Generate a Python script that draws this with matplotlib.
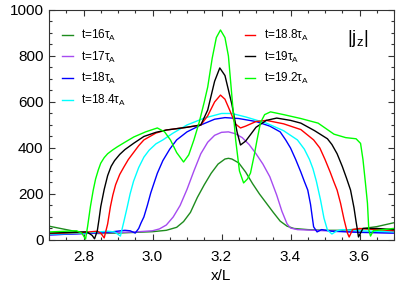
import matplotlib

matplotlib.use("Agg")
from matplotlib import pyplot as plt
from matplotlib.ticker import MultipleLocator

plt.rcParams["font.family"] = ["Liberation Sans", "DejaVu Sans"]
plt.rcParams["mathtext.fontset"] = "custom"
plt.rcParams["mathtext.rm"] = "Liberation Sans"

# |j_z| profiles, one pair of lists per time
x_t16 = [2.70, 2.75, 2.80, 2.85, 2.90, 2.95, 3.00, 3.04, 3.07, 3.09, 3.11, 3.13, 3.15, 3.17,
         3.19, 3.21, 3.22, 3.23, 3.25, 3.27, 3.29, 3.31, 3.33, 3.35, 3.37, 3.39, 3.41, 3.45,
         3.50, 3.55, 3.60, 3.65, 3.70]
j_t16 = [60, 45, 30, 28, 30, 33, 36, 42, 55, 80, 120, 185, 240, 290,
         330, 352, 355, 352, 335, 295, 245, 200, 160, 120, 82, 60, 50, 45,
         42, 42, 48, 58, 75]

x_t17 = [2.70, 2.80, 2.90, 2.95, 3.00, 3.02, 3.04, 3.06, 3.08, 3.10, 3.12, 3.14, 3.16, 3.18,
         3.20, 3.22, 3.24, 3.26, 3.28, 3.30, 3.32, 3.34, 3.36, 3.375, 3.39, 3.40, 3.42, 3.50,
         3.60, 3.70]
j_t17 = [22, 28, 33, 35, 40, 48, 65, 100, 150, 220, 300, 375, 425, 455,
         468, 470, 462, 445, 415, 375, 330, 275, 195, 125, 70, 52, 45, 40,
         35, 30]

x_t18 = [2.70, 2.80, 2.88, 2.92, 2.935, 2.95, 2.96, 2.967, 2.975, 2.985, 2.995, 3.005, 3.014, 3.03,
         3.05, 3.07, 3.10, 3.14, 3.18, 3.21, 3.25, 3.30, 3.34, 3.37, 3.386, 3.40, 3.415, 3.43,
         3.44, 3.45, 3.458, 3.463, 3.467, 3.477, 3.49, 3.52, 3.60, 3.70]
j_t18 = [22, 28, 35, 42, 40, 30, 50, 75, 100, 150, 205, 250, 290, 345,
         395, 435, 470, 500, 525, 532, 528, 515, 495, 470, 435, 400, 350, 295,
         255, 217, 155, 100, 57, 35, 45, 38, 33, 30]

x_t184 = [2.70, 2.80, 2.87, 2.89, 2.907, 2.917, 2.927, 2.935, 2.945, 2.96, 2.975, 2.99, 3.01, 3.03,
          3.06, 3.10, 3.15, 3.20, 3.23, 3.27, 3.33, 3.38, 3.42, 3.44, 3.455, 3.465, 3.475, 3.487,
          3.497, 3.507, 3.52, 3.535, 3.55, 3.60, 3.70]
j_t184 = [25, 30, 38, 35, 17, 80, 145, 200, 255, 315, 360, 390, 418, 435,
          465, 500, 530, 550, 550, 535, 508, 475, 435, 395, 350, 310, 255, 174,
          95, 43, 26, 40, 45, 40, 35]

x_t188 = [2.70, 2.80, 2.84, 2.85, 2.86, 2.87, 2.878, 2.885, 2.893, 2.905, 2.917, 2.93, 2.945, 2.96,
          2.975, 3.01, 3.04, 3.10, 3.14, 3.16, 3.18, 3.197, 3.21, 3.225, 3.24, 3.255, 3.27, 3.30,
          3.33, 3.38, 3.43, 3.467, 3.485, 3.50, 3.515, 3.525, 3.535, 3.545, 3.555, 3.565, 3.57,
          3.58, 3.60, 3.65, 3.70]
j_t188 = [28, 33, 38, 30, 9, 70, 145, 195, 240, 285, 317, 350, 380, 410,
          435, 465, 478, 490, 500, 540, 600, 630, 612, 560, 505, 487, 495, 515,
          520, 505, 480, 435, 400, 350, 295, 255, 217, 160, 90, 30, 13,
          45, 50, 45, 40]

x_t19 = [2.70, 2.80, 2.81, 2.825, 2.832, 2.84, 2.845, 2.85, 2.86, 2.87, 2.88, 2.89, 2.905, 2.92,
         2.946, 2.975, 3.01, 3.04, 3.10, 3.14, 3.16, 3.18, 3.195, 3.21, 3.23, 3.245, 3.255, 3.27,
         3.30, 3.33, 3.36, 3.40, 3.43, 3.47, 3.507, 3.52, 3.535, 3.55, 3.562, 3.574, 3.584, 3.59,
         3.594, 3.597, 3.61, 3.65, 3.70]
j_t19 = [30, 35, 35, 20, 5, 40, 90, 145, 220, 280, 320, 345, 372, 393,
         421, 450, 468, 478, 490, 500, 565, 690, 748, 715, 590, 470, 413, 430,
         490, 520, 530, 520, 508, 475, 440, 415, 375, 320, 270, 217, 140, 80,
         43, 13, 50, 50, 45]

x_t192 = [2.70, 2.78, 2.795, 2.806, 2.812, 2.82, 2.828, 2.835, 2.843, 2.85, 2.86, 2.87, 2.885, 2.898,
          2.92, 2.946, 2.98, 3.014, 3.035, 3.052, 3.07, 3.09, 3.105, 3.12, 3.135, 3.15, 3.16, 3.173,
          3.185, 3.197, 3.21, 3.22, 3.231, 3.241, 3.252, 3.264, 3.275, 3.284, 3.295, 3.303, 3.313,
          3.325, 3.342, 3.38, 3.43, 3.48, 3.526, 3.56, 3.59, 3.603, 3.61, 3.617, 3.623, 3.627,
          3.632, 3.64, 3.70]
j_t192 = [35, 40, 30, 4, 60, 145, 215, 265, 305, 334, 358, 375, 392, 405,
          425, 448, 470, 487, 470, 435, 380, 339, 370, 435, 510, 600, 665, 790,
          880, 913, 880, 800, 609, 435, 300, 248, 265, 291, 370, 435, 510,
          545, 557, 545, 528, 508, 460, 445, 440, 420, 350, 250, 160, 43,
          17, 40, 50]

labels = ["t=16τ$_{\\rm A}$", "t=17τ$_{\\rm A}$", "t=18τ$_{\\rm A}$", "t=18.4τ$_{\\rm A}$",
          "t=18.8τ$_{\\rm A}$", "t=19τ$_{\\rm A}$", "t=19.2τ$_{\\rm A}$"]
colors = ["#1e8c1e", "#a64bf0", "#0000ff", "#00ffff", "#ff0000", "#000000", "#00ff00"]

series = [
    (x_t16, j_t16), (x_t17, j_t17), (x_t18, j_t18), (x_t184, j_t184),
    (x_t188, j_t188), (x_t19, j_t19), (x_t192, j_t192),
]

fig = plt.figure(figsize=(4.07, 2.85), dpi=100)
ax = fig.add_axes([0.1204, 0.158, 0.8477, 0.807])

handles = []
for (xs, ys), label, color in zip(series, labels, colors):
    (line,) = ax.plot(xs, ys, color=color, linewidth=1.0, label=label)
    handles.append(line)

ax.set_xlim(2.7, 3.7)
ax.set_ylim(0, 1000)
ax.xaxis.set_major_locator(MultipleLocator(0.2))
ax.xaxis.set_minor_locator(MultipleLocator(0.05))
ax.yaxis.set_major_locator(MultipleLocator(200))
ax.yaxis.set_minor_locator(MultipleLocator(50))
ax.xaxis.set_major_formatter(lambda v, _: f"{v:.1f}")
ax.tick_params(which="both", direction="in", top=True, right=True, labelsize=11, width=0.8,
               color="#333333")
ax.tick_params(which="major", length=4.5)
ax.tick_params(axis="x", which="major", pad=7)
ax.tick_params(axis="y", which="major", pad=4)
ax.tick_params(which="minor", length=2.5)
for spine in ax.spines.values():
    spine.set_linewidth(0.8)
    spine.set_color("#333333")

ax.set_xlabel("x/L", fontsize=11, labelpad=4)

leg_style = dict(frameon=False, fontsize=8.5, handlelength=0.9, handletextpad=0.7,
                 labelspacing=0.55, borderpad=0, borderaxespad=0, loc="upper left")
leg1 = ax.legend(handles=handles[:4], bbox_to_anchor=(0.039, 0.922), **leg_style)
ax.add_artist(leg1)
ax.legend(handles=handles[4:], bbox_to_anchor=(0.567, 0.922), **leg_style)

ax.text(0.895, 0.875, "|j$_{\\rm z}$|", transform=ax.transAxes, fontsize=13.5,
        ha="center", va="center")

fig.savefig("out.png", dpi=100)
plt.close(fig)
